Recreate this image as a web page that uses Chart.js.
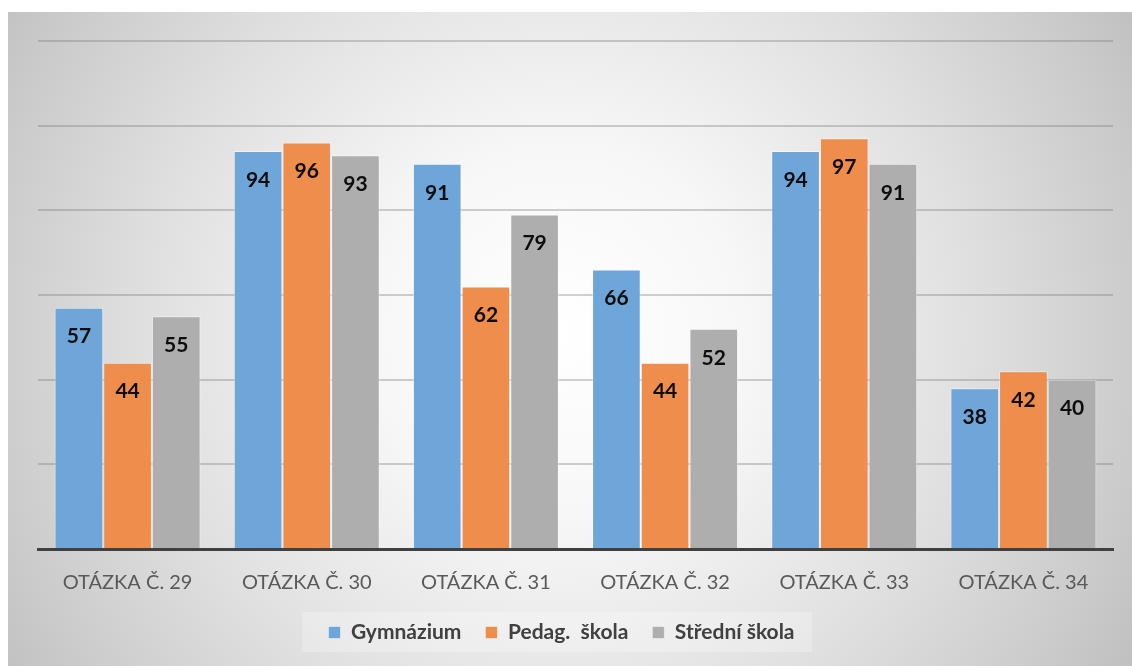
<!DOCTYPE html>
<html>
<head>
<meta charset="utf-8">
<script src="https://cdn.jsdelivr.net/npm/chart.js@4/dist/chart.umd.min.js"></script>
<style>
  html, body { margin: 0; padding: 0; background: #ffffff; }
  #wrap { position: absolute; left: 8px; top: 12px; width: 1124px; height: 654px; }
</style>
</head>
<body>
<div id="wrap"><canvas id="c" width="1124" height="654"></canvas></div>
<script>
const categories = ["OTÁZKA Č. 29", "OTÁZKA Č. 30", "OTÁZKA Č. 31", "OTÁZKA Č. 32", "OTÁZKA Č. 33", "OTÁZKA Č. 34"];
const gymnazium = [57, 94, 91, 66, 94, 38];
const pedagSkola = [44, 96, 62, 44, 97, 42];
const stredniSkola = [55, 93, 79, 52, 91, 40];
const seriesNames = ["Gymnázium", "Pedag.  škola", "Střední škola"];
const yTicks = [0, 20, 40, 60, 80, 100, 120];

const bgPlugin = {
  id: 'bg',
  afterLayout(chart) {
    const lg = chart.legend;
    if (lg) { lg.left -= 14; lg.right -= 14; }
  },
  beforeDraw(chart) {
    const ctx = chart.ctx;
    const w = chart.width, h = chart.height;
    ctx.save();
    const g = ctx.createRadialGradient(552, 320, 0, 552, 320, 660);
    g.addColorStop(0, '#ffffff');
    g.addColorStop(0.28, '#f7f7f7');
    g.addColorStop(0.62, '#e0e0e0');
    g.addColorStop(0.88, '#cbcbcb');
    g.addColorStop(1, '#c0c0c0');
    ctx.fillStyle = g;
    ctx.fillRect(0, 0, w, h);
    const lg = chart.legend;
    if (lg) {
      ctx.fillStyle = 'rgba(255,255,255,0.25)';
      ctx.fillRect(294, lg.top + 14, 510, 40);
    }
    ctx.restore();
  }
};

const labelPlugin = {
  id: 'vals',
  afterDraw(chart) {
    const ctx = chart.ctx;
    ctx.save();
    ctx.font = 'bold 21px Lato';
    ctx.fillStyle = '#0d0d0d';
    ctx.textAlign = 'center';
    ctx.textBaseline = 'middle';
    chart.data.datasets.forEach((ds, i) => {
      const meta = chart.getDatasetMeta(i);
      meta.data.forEach((el, j) => {
        ctx.fillText(String(ds.data[j]), el.x, el.y + 29);
      });
    });
    ctx.restore();
  }
};

new Chart(document.getElementById('c'), {
  type: 'bar',
  data: {
    labels: categories,
    datasets: [
      { label: seriesNames[0], data: gymnazium, backgroundColor: '#6fa6da', borderColor: 'rgba(255,255,255,0.45)', borderWidth: 1 },
      { label: seriesNames[1], data: pedagSkola, backgroundColor: '#ee8d4c', borderColor: 'rgba(255,255,255,0.45)', borderWidth: 1 },
      { label: seriesNames[2], data: stredniSkola, backgroundColor: '#aeaeae', borderColor: 'rgba(255,255,255,0.45)', borderWidth: 1 }
    ]
  },
  options: {
    responsive: false,
    animation: false,
    events: [],
    layout: { padding: { left: 30, right: 19, top: 29, bottom: 13 } },
    datasets: { bar: { categoryPercentage: 0.815, barPercentage: 1.0 } },
    plugins: {
      tooltip: { enabled: false },
      legend: {
        position: 'bottom',
        labels: {
          font: { family: 'Lato', size: 21, weight: 'bold' },
          color: '#404040',
          boxWidth: 12,
          boxHeight: 12,
          padding: 24
        }
      }
    },
    scales: {
      x: {
        z: 1,
        afterFit(scale) { scale.height = 49; },
        grid: { display: false, drawTicks: false },
        border: { display: true, color: '#404040', width: 3 },
        ticks: { font: { family: 'Lato', size: 20 }, color: '#595959', padding: 22 }
      },
      y: {
        z: 1,
        min: 0,
        max: 120,
        afterBuildTicks(scale) { scale.ticks = yTicks.map(v => ({ value: v })); },
        ticks: { display: false },
        grid: {
          drawTicks: false,
          lineWidth: 2,
          color: (c) => c.tick && c.tick.value === 0 ? 'rgba(0,0,0,0)' : 'rgba(120,120,120,0.35)'
        },
        border: { display: false }
      }
    }
  },
  plugins: [bgPlugin, labelPlugin]
});
</script>
</body>
</html>
